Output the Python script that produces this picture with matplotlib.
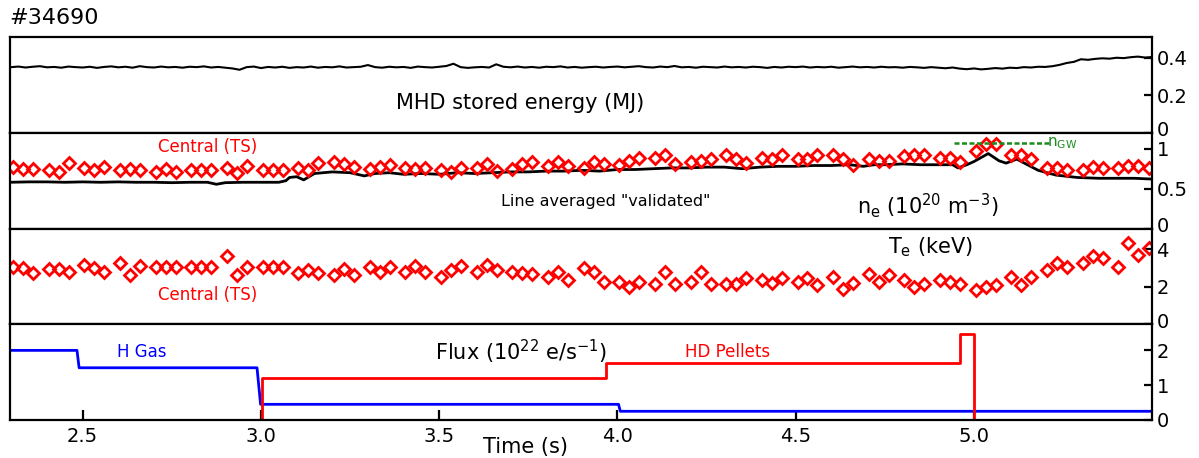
import matplotlib
matplotlib.use("Agg")
import matplotlib.pyplot as plt
import matplotlib.transforms as mtransforms
from matplotlib.ticker import FormatStrFormatter

plt.rcParams["font.family"] = ["DejaVu Sans"]

# --- MHD stored energy (MJ), one row per 0.2 s ---
wmhd_t = [2.30, 2.32, 2.34, 2.36, 2.38, 2.40, 2.42, 2.44, 2.46, 2.48,
          2.50, 2.52, 2.54, 2.56, 2.58, 2.60, 2.62, 2.64, 2.66, 2.68,
          2.70, 2.72, 2.74, 2.76, 2.78, 2.80, 2.82, 2.84, 2.86, 2.88,
          2.90, 2.92, 2.94, 2.96, 2.98, 3.00, 3.02, 3.04, 3.06, 3.08,
          3.10, 3.12, 3.14, 3.16, 3.18, 3.20, 3.22, 3.24, 3.26, 3.28,
          3.30, 3.32, 3.34, 3.36, 3.38, 3.40, 3.42, 3.44, 3.46, 3.48,
          3.50, 3.52, 3.54, 3.56, 3.58, 3.60, 3.62, 3.64, 3.66, 3.68,
          3.70, 3.72, 3.74, 3.76, 3.78, 3.80, 3.82, 3.84, 3.86, 3.88,
          3.90, 3.92, 3.94, 3.96, 3.98, 4.00, 4.02, 4.04, 4.06, 4.08,
          4.10, 4.12, 4.14, 4.16, 4.18, 4.20, 4.22, 4.24, 4.26, 4.28,
          4.30, 4.32, 4.34, 4.36, 4.38, 4.40, 4.42, 4.44, 4.46, 4.48,
          4.50, 4.52, 4.54, 4.56, 4.58, 4.60, 4.62, 4.64, 4.66, 4.68,
          4.70, 4.72, 4.74, 4.76, 4.78, 4.80, 4.82, 4.84, 4.86, 4.88,
          4.90, 4.92, 4.94, 4.96, 4.98, 5.00, 5.02, 5.04, 5.06, 5.08,
          5.10, 5.12, 5.14, 5.16, 5.18, 5.20, 5.22, 5.24, 5.26, 5.28,
          5.30, 5.32, 5.34, 5.36, 5.38, 5.40, 5.42, 5.44, 5.46, 5.48,
          5.50]
wmhd = [0.350, 0.353, 0.348, 0.352, 0.355, 0.349, 0.351, 0.347, 0.353, 0.350,
        0.348, 0.352, 0.346, 0.351, 0.354, 0.349, 0.352, 0.347, 0.355, 0.350,
        0.348, 0.353, 0.349, 0.351, 0.347, 0.352, 0.350, 0.354, 0.348, 0.351,
        0.347, 0.343, 0.336, 0.350, 0.353, 0.345, 0.351, 0.348, 0.352, 0.346,
        0.350, 0.348, 0.353, 0.347, 0.351, 0.349, 0.354, 0.348, 0.350, 0.352,
        0.361, 0.350, 0.347, 0.352, 0.349, 0.351, 0.346, 0.353, 0.350, 0.348,
        0.352, 0.356, 0.368, 0.350, 0.346, 0.349, 0.351, 0.348, 0.365, 0.352,
        0.349, 0.353, 0.348, 0.351, 0.347, 0.352, 0.350, 0.354, 0.348, 0.351,
        0.347, 0.350, 0.352, 0.348, 0.351, 0.353, 0.349, 0.352, 0.355, 0.350,
        0.348, 0.353, 0.350, 0.356, 0.349, 0.351, 0.347, 0.352, 0.350, 0.348,
        0.353, 0.349, 0.351, 0.348, 0.352, 0.350, 0.346, 0.351, 0.348, 0.352,
        0.350, 0.353, 0.348, 0.351, 0.349, 0.352, 0.347, 0.350, 0.353, 0.349,
        0.351, 0.348, 0.352, 0.349, 0.350, 0.347, 0.351, 0.349, 0.346, 0.350,
        0.347, 0.344, 0.348, 0.342, 0.339, 0.343, 0.338, 0.341, 0.345, 0.342,
        0.347, 0.345, 0.350, 0.348, 0.352, 0.351, 0.355, 0.362, 0.372, 0.378,
        0.392, 0.389, 0.394, 0.397, 0.395, 0.400, 0.398, 0.403, 0.406, 0.401,
        0.404]

# --- Thomson scattering sample times (s) ---
ts_t = [2.305, 2.333, 2.361, 2.405, 2.433, 2.461, 2.505, 2.533, 2.561, 2.605, 2.633, 2.661,
        2.705, 2.733, 2.761, 2.805, 2.833, 2.861, 2.905, 2.933, 2.961, 3.005, 3.033, 3.061,
        3.105, 3.133, 3.161, 3.205, 3.233, 3.261, 3.305, 3.333, 3.361, 3.405, 3.433, 3.461,
        3.505, 3.533, 3.561, 3.605, 3.633, 3.661, 3.705, 3.733, 3.761, 3.805, 3.833, 3.861,
        3.905, 3.933, 3.961, 4.005, 4.033, 4.061, 4.105, 4.133, 4.161, 4.205, 4.233, 4.261,
        4.305, 4.333, 4.361, 4.405, 4.433, 4.461, 4.505, 4.533, 4.561, 4.605, 4.633, 4.661,
        4.705, 4.733, 4.761, 4.805, 4.833, 4.861, 4.905, 4.933, 4.961, 5.005, 5.033, 5.061,
        5.105, 5.133, 5.161, 5.205, 5.233, 5.261, 5.305, 5.333, 5.361, 5.405, 5.433, 5.461,
        5.492]

# central density (1e20 m^-3), TS
ne_ts = [0.77, 0.75, 0.75, 0.74, 0.71, 0.82, 0.76, 0.73, 0.77, 0.74, 0.75, 0.74,
         0.71, 0.75, 0.71, 0.73, 0.74, 0.74, 0.76, 0.70, 0.78, 0.74, 0.74, 0.73,
         0.76, 0.73, 0.82, 0.83, 0.81, 0.77, 0.75, 0.77, 0.80, 0.76, 0.75, 0.76,
         0.73, 0.71, 0.76, 0.76, 0.81, 0.72, 0.75, 0.81, 0.84, 0.79, 0.83, 0.78,
         0.76, 0.83, 0.81, 0.80, 0.85, 0.88, 0.88, 0.92, 0.81, 0.83, 0.85, 0.87,
         0.92, 0.87, 0.82, 0.88, 0.87, 0.92, 0.87, 0.87, 0.92, 0.92, 0.87, 0.80,
         0.87, 0.85, 0.85, 0.91, 0.92, 0.92, 0.88, 0.88, 0.83, 0.97, 1.06, 1.06,
         0.92, 0.92, 0.87, 0.76, 0.76, 0.74, 0.74, 0.77, 0.76, 0.76, 0.79, 0.79,
         0.76]

# central electron temperature (keV), TS
te_ts = [3.07, 2.98, 2.71, 2.93, 2.93, 2.80, 3.16, 2.98, 2.80, 3.25, 2.62, 3.11,
         3.04, 3.04, 3.04, 3.07, 3.07, 3.07, 3.62, 2.62, 3.04, 3.04, 3.04, 3.07,
         2.71, 2.89, 2.75, 2.62, 2.93, 2.62, 3.07, 2.80, 3.07, 2.80, 3.11, 2.80,
         2.53, 2.89, 3.11, 2.80, 3.16, 2.89, 2.80, 2.71, 2.68, 2.53, 2.80, 2.35,
         2.98, 2.80, 2.26, 2.26, 1.99, 2.26, 2.17, 2.80, 2.17, 2.26, 2.80, 2.13,
         2.17, 2.17, 2.44, 2.35, 2.21, 2.44, 2.26, 2.44, 2.08, 2.53, 1.90, 2.21,
         2.68, 2.26, 2.62, 2.35, 1.99, 2.13, 2.35, 2.26, 2.17, 1.81, 1.99, 2.08,
         2.53, 2.08, 2.53, 2.89, 3.25, 3.07, 3.25, 3.62, 3.53, 3.07, 4.34, 3.71,
         4.07]

# line averaged "validated" density
nel_t = [2.296, 2.35, 2.40, 2.45, 2.50, 2.55, 2.60, 2.65, 2.70, 2.75, 2.80, 2.85, 2.875, 2.90,
         2.95, 3.00, 3.05, 3.07, 3.08, 3.10, 3.12, 3.15, 3.20, 3.25, 3.29, 3.32, 3.36, 3.40,
         3.45, 3.50, 3.55, 3.60, 3.65, 3.70, 3.75, 3.80, 3.85, 3.90, 3.95, 4.00, 4.05, 4.10,
         4.15, 4.20, 4.25, 4.30, 4.35, 4.40, 4.45, 4.50, 4.55, 4.60, 4.65, 4.69, 4.72, 4.75,
         4.80, 4.85, 4.90, 4.94, 4.955, 4.98, 5.00, 5.04, 5.07, 5.09, 5.12, 5.15, 5.18, 5.23,
         5.29, 5.35, 5.40, 5.45, 5.50]
nel = [0.58, 0.585, 0.585, 0.58, 0.585, 0.58, 0.585, 0.58, 0.58, 0.575, 0.58, 0.58, 0.555, 0.575,
       0.58, 0.58, 0.58, 0.60, 0.64, 0.65, 0.61, 0.69, 0.71, 0.70, 0.66, 0.69, 0.70, 0.68,
       0.69, 0.68, 0.70, 0.69, 0.70, 0.71, 0.71, 0.72, 0.72, 0.73, 0.72, 0.74, 0.74, 0.75,
       0.76, 0.76, 0.77, 0.77, 0.75, 0.77, 0.78, 0.78, 0.79, 0.79, 0.80, 0.78, 0.80, 0.80,
       0.81, 0.80, 0.80, 0.80, 0.76, 0.80, 0.84, 0.94, 0.85, 0.82, 0.87, 0.80, 0.73, 0.67,
       0.64, 0.63, 0.63, 0.63, 0.62]

n_gw = 1.07
n_gw_t = [4.945, 5.21]

# fuelling flux (1e22 e/s)
gas_t = [2.296, 2.484, 2.49, 2.989, 2.999, 4.003, 4.008, 5.50]
gas_v = [2.0, 2.0, 1.5, 1.5, 0.45, 0.45, 0.25, 0.25]
pel_t = [3.003, 3.003, 3.968, 3.968, 4.962, 4.962, 4.999, 4.999]
pel_v = [0.0, 1.21, 1.21, 1.65, 1.65, 2.48, 2.48, 0.0]

RED = "#ff0000"
BLUE = "#0000ff"
GREEN = "#1a8c1a"

fig, axs = plt.subplots(4, 1, sharex=True, figsize=(11.99, 4.58), dpi=100)
fig.subplots_adjust(left=0.0083, right=0.961, bottom=0.083, top=0.919, hspace=0)

dmk = dict(ls="none", marker="D", ms=6.5, mfc="none", mec=RED, mew=2.0)

axs[0].plot(wmhd_t, wmhd, color="black", lw=1.5)
axs[0].set_ylim(0, 0.51)
axs[0].set_yticks([0, 0.2, 0.4])

axs[1].plot(nel_t, nel, color="black", lw=2)
axs[1].plot(ts_t, ne_ts, **dmk)
axs[1].plot(n_gw_t, [n_gw, n_gw], color=GREEN, ls=(0, (2, 1)), lw=1.8)
axs[1].set_ylim(0, 1.2)
axs[1].set_yticks([0, 0.5, 1])

axs[2].plot(ts_t, te_ts, **dmk)
axs[2].set_ylim(0, 5.1)
axs[2].set_yticks([0, 2, 4])

axs[3].plot(gas_t, gas_v, color=BLUE, lw=2)
axs[3].plot(pel_t, pel_v, color=RED, lw=2)
axs[3].set_ylim(0, 2.75)
axs[3].set_yticks([0, 1, 2])
axs[3].set_xlim(2.296, 5.50)
axs[3].set_xticks([2.5, 3.0, 3.5, 4.0, 4.5, 5.0])
axs[3].xaxis.set_major_formatter(FormatStrFormatter("%.1f"))

lift = mtransforms.ScaledTranslation(0, 4 / 100, fig.dpi_scale_trans)
for i, ax in enumerate(axs):
    for s in ax.spines.values():
        s.set_linewidth(1.6)
    ax.yaxis.tick_right()
    ax.yaxis.set_major_formatter(FormatStrFormatter("%g"))
    ax.tick_params(axis="y", direction="in", length=6, width=1.6, labelsize=14, pad=3)
    ax.tick_params(axis="x", direction="in", length=7, width=1.6, labelsize=14, pad=5,
                   bottom=(i == 3), top=False)
    # the "0" label of the upper panels sits a little above the panel boundary
    if i < 3:
        lab = ax.yaxis.get_major_ticks()[0].label2
        lab.set_transform(lab.get_transform() + lift)

# annotations
fig.text(0.008, 0.961, "#34690", fontsize=16, ha="left", va="center")
fig.text(0.434, 0.775, "MHD stored energy (MJ)", fontsize=15, ha="center", va="center")
fig.text(0.173, 0.679, "Central (TS)", fontsize=12, color=RED, ha="center", va="center")
fig.text(0.505, 0.559, 'Line averaged "validated"', fontsize=11.5, ha="center", va="center")
fig.text(0.774, 0.552, r"n$_\mathregular{e}$ (10$^\mathregular{20}$ m$^\mathregular{-3}$)",
         fontsize=15, ha="center", va="center")
fig.text(0.873, 0.688, r"n$_\mathregular{GW}$", fontsize=11, color=GREEN,
         ha="left", va="center")
fig.text(0.776, 0.461, r"T$_\mathregular{e}$ (keV)", fontsize=15, ha="center", va="center")
fig.text(0.173, 0.356, "Central (TS)", fontsize=12, color=RED, ha="center", va="center")
fig.text(0.118, 0.231, "H Gas", fontsize=12, color=BLUE, ha="center", va="center")
fig.text(0.435, 0.232, r"Flux (10$^\mathregular{22}$ e/s$^\mathregular{-1}$)", fontsize=15,
         ha="center", va="center")
fig.text(0.607, 0.231, "HD Pellets", fontsize=12, color=RED, ha="center", va="center")
fig.text(0.438, 0.024, "Time (s)", fontsize=15, ha="center", va="center")

fig.savefig("out.png", dpi=100)
